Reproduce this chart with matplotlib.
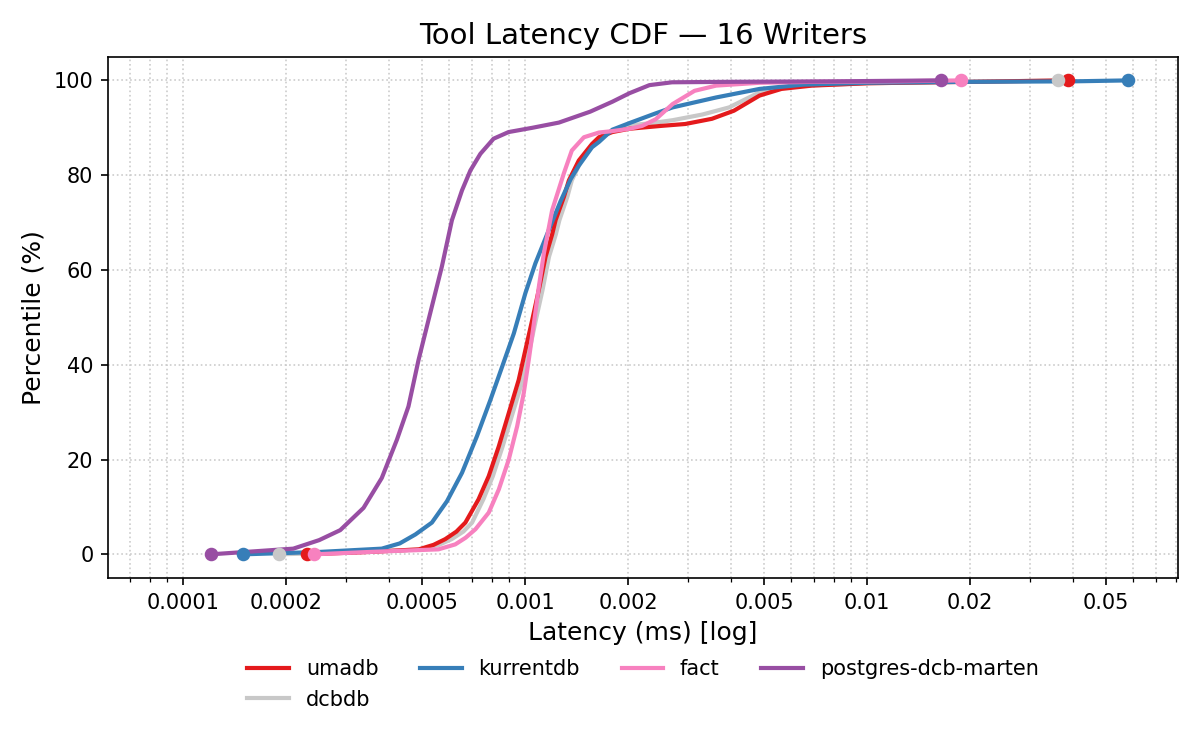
import matplotlib
matplotlib.use("Agg")
import matplotlib.pyplot as plt
from matplotlib.ticker import FixedLocator, FuncFormatter, NullFormatter
import numpy as np

# latency (ms) / percentile pairs
umadb_lat = [2.30e-4, 3.5e-4, 4.89e-4, 5.4e-4, 5.84e-4, 6.3e-4, 6.69e-4, 7.31e-4, 7.83e-4, 8.38e-4,
             8.96e-4, 9.58e-4, 1.002e-3, 1.049e-3, 1.097e-3, 1.148e-3, 1.20e-3, 1.228e-3, 1.30e-3,
             1.343e-3, 1.436e-3, 1.57e-3, 1.644e-3, 1.80e-3, 2.02e-3, 2.5e-3, 2.94e-3, 3.52e-3,
             4.08e-3, 4.85e-3, 5.62e-3, 6.9e-3, 1.01e-2, 2.0e-2, 3.88e-2]
umadb_pct = [0, 0.5, 1.05, 2.0, 3.2, 4.8, 6.7, 11.6, 16.5, 22.8, 29.8, 36.8, 43.1, 49.4, 55.8, 62.8,
             67.5, 70.5, 75.5, 78.9, 83.1, 86.6, 88.0, 89.1, 89.8, 90.4, 90.8, 91.9, 93.6, 96.8, 98.2,
             98.9, 99.4, 99.7, 100]

dcbdb_lat = [1.905e-4, 3.0e-4, 4.9e-4, 5.6e-4, 6.1e-4, 6.6e-4, 7.0e-4, 7.55e-4, 8.05e-4, 8.6e-4,
             9.2e-4, 9.85e-4, 1.03e-3, 1.075e-3, 1.125e-3, 1.175e-3, 1.23e-3, 1.26e-3, 1.33e-3,
             1.37e-3, 1.46e-3, 1.59e-3, 1.66e-3, 1.80e-3, 2.02e-3, 2.35e-3, 2.70e-3, 3.3e-3, 3.95e-3,
             4.85e-3, 5.6e-3, 6.5e-3, 1.0e-2, 2.0e-2, 3.62e-2]
dcbdb_pct = [0, 0.4, 1.0, 2.0, 3.2, 4.8, 6.7, 11.6, 16.5, 22.8, 29.8, 36.8, 43.1, 49.4, 55.8, 62.8,
             67.5, 70.5, 75.5, 78.9, 83.1, 86.6, 88.0, 89.3, 90.5, 91.0, 91.6, 92.8, 94.3, 97.5, 98.4,
             98.9, 99.4, 99.7, 100]

kurrentdb_lat = [1.50e-4, 2.5e-4, 3.81e-4, 4.3e-4, 4.78e-4, 5.34e-4, 5.91e-4, 6.54e-4, 7.23e-4,
                 7.92e-4, 8.57e-4, 9.27e-4, 1.002e-3, 1.072e-3, 1.173e-3, 1.27e-3, 1.36e-3, 1.436e-3,
                 1.57e-3, 1.644e-3, 1.80e-3, 2.02e-3, 2.40e-3, 2.70e-3, 3.62e-3, 4.85e-3, 6.5e-3,
                 1.01e-2, 2.0e-2, 4.0e-2, 5.8e-2]
kurrentdb_pct = [0, 0.5, 1.2, 2.3, 4.2, 6.7, 11.2, 17.2, 24.9, 32.6, 39.6, 46.6, 55.1, 61.4, 68.4,
                 74.5, 79.2, 82.0, 85.9, 87.0, 89.6, 91.0, 93.0, 94.3, 96.4, 98.2, 99.1, 99.5, 99.7,
                 99.8, 100]

fact_lat = [2.41e-4, 3.5e-4, 5.58e-4, 6.25e-4, 6.7e-4, 7.16e-4, 7.83e-4, 8.38e-4, 8.96e-4, 9.48e-4,
            9.91e-4, 1.025e-3, 1.061e-3, 1.097e-3, 1.135e-3, 1.20e-3, 1.30e-3, 1.37e-3, 1.486e-3,
            1.644e-3, 1.80e-3, 2.02e-3, 2.20e-3, 2.41e-3, 2.70e-3, 3.13e-3, 3.62e-3, 4.85e-3,
            7.0e-3, 1.2e-2, 1.88e-2]
fact_pct = [0, 0.5, 1.05, 2.1, 3.5, 5.3, 8.8, 13.7, 20.0, 27.0, 34.0, 41.0, 48.7, 56.4, 63.5, 72.6,
            80.5, 85.2, 88.0, 89.0, 89.3, 89.8, 90.4, 91.8, 95.0, 97.8, 98.9, 99.5, 99.7, 99.8, 100]

marten_lat = [1.206e-4, 2.10e-4, 2.5e-4, 2.88e-4, 3.37e-4, 3.81e-4, 4.22e-4, 4.56e-4, 4.88e-4,
              5.28e-4, 5.71e-4, 6.11e-4, 6.54e-4, 6.92e-4, 7.40e-4, 8.09e-4, 8.95e-4, 1.05e-3,
              1.256e-3, 1.55e-3, 1.80e-3, 2.02e-3, 2.31e-3, 2.69e-3, 4.0e-3, 8.0e-3, 1.648e-2]
marten_pct = [0, 1.2, 3.0, 5.1, 9.8, 16.1, 24.2, 31.2, 41.0, 50.9, 60.7, 70.5, 76.8, 81.0, 84.5,
              87.7, 89.1, 90.0, 91.1, 93.4, 95.5, 97.3, 99.0, 99.6, 99.7, 99.8, 100]

names = ["umadb", "dcbdb", "kurrentdb", "fact", "postgres-dcb-marten"]
colors = ["#e41a1c", "#c8c8c8", "#377eb8", "#f781bf", "#984ea3"]
lats = [umadb_lat, dcbdb_lat, kurrentdb_lat, fact_lat, marten_lat]
pcts = [umadb_pct, dcbdb_pct, kurrentdb_pct, fact_pct, marten_pct]
zorders = [2.2, 2.1, 2.3, 2.4, 2.5]

fig, ax = plt.subplots(figsize=(8, 5), dpi=150)
fig.subplots_adjust(left=0.09, right=0.9817, top=0.9244, bottom=0.2293)

handles = []
for name, c, x, y, z in zip(names, colors, lats, pcts, zorders):
    h, = ax.plot(x, y, color=c, lw=2, label=name, zorder=z)
    handles.append(h)
# min / max markers
for c, x, y in zip(colors, lats, pcts):
    ax.plot([x[0], x[-1]], [y[0], y[-1]], "o", color=c, ms=5.5, zorder=3)

ax.set_xscale("log")
all_lat = np.concatenate([np.array(v) for v in lats])
ax.set_xlim(all_lat.min() * 0.5, all_lat.max() * 1.4)
ax.set_ylim(-5, 105)

major = [0.0001, 0.0002, 0.0005, 0.001, 0.002, 0.005, 0.01, 0.02, 0.05]
ax.xaxis.set_major_locator(FixedLocator(major))
ax.xaxis.set_major_formatter(FuncFormatter(lambda v, p: "{:g}".format(v)))
ax.xaxis.set_minor_formatter(NullFormatter())
ax.grid(True, which="both", axis="x", linestyle=":", color="#cccccc", lw=0.8)
ax.grid(True, which="major", axis="y", linestyle=":", color="#cccccc", lw=0.8)

ax.set_title("Tool Latency CDF — 16 Writers", fontsize=14)
ax.set_xlabel("Latency (ms) [log]", fontsize=12)
ax.set_ylabel("Percentile (%)", fontsize=12)
ax.legend(handles=handles, loc="upper center", bbox_to_anchor=(0.5, -0.12), ncol=4, frameon=False)

fig.savefig("out.png", dpi=150)
